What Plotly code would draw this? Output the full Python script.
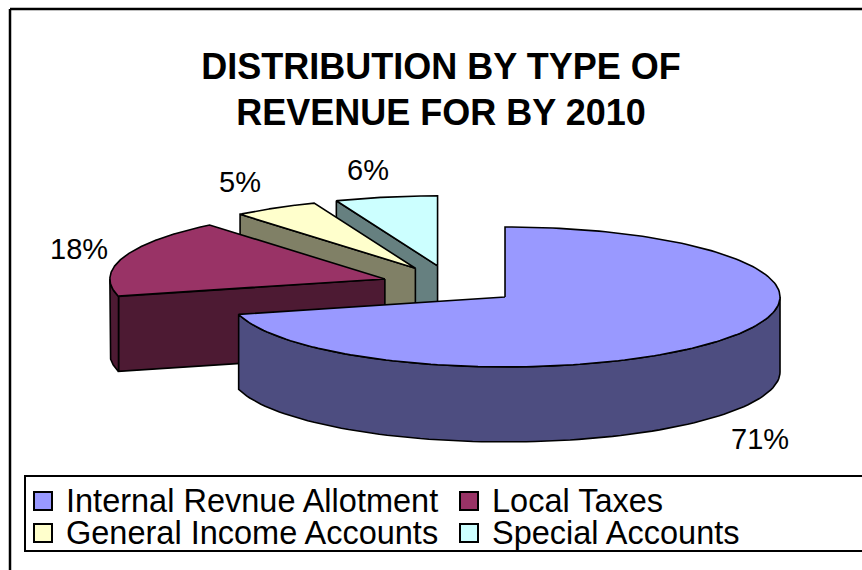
import numpy as np
import plotly.graph_objects as go

categories = ["Internal Revnue Allotment", "Local Taxes", "General Income Accounts", "Special Accounts"]
values = [71, 18, 5, 6]
top_colors = ["#9999FF", "#993366", "#FFFFCC", "#CCFFFF"]
side_colors = ["#4D4D80", "#4D1A33", "#808066", "#668080"]
title_text = "DISTRIBUTION BY TYPE OF<br>REVENUE FOR BY 2010"

FONT = "Liberation Sans, Arial, sans-serif"
CX, CY = 450.5, 285.0      # pie centre, in pixels of the 862x570 page
RX, RY = 275.0, 70.0       # ellipse radii of the tilted pie
DEPTH = 75.0               # thickness of the pie
EX, EY = 69.0, 19.5        # explosion offset
LINE = dict(color="#000000", width=1.6)


def pt(c, ang, dy=0.0):
    a = np.radians(ang)
    return c[0] + RX * np.sin(a), c[1] - RY * np.cos(a) + dy


def poly(xs, ys, fill):
    return go.Scatter(x=list(xs) + [xs[0]], y=list(ys) + [ys[0]], mode="lines", fill="toself",
                      fillcolor=fill, line=LINE, hoverinfo="skip", showlegend=False)


total = sum(values)
slices = []
start = 0.0
for v, top, side in zip(values, top_colors, side_colors):
    end = start + 360.0 * v / total
    mid = np.radians((start + end) / 2)
    c = (CX + EX * np.sin(mid), CY - EY * np.cos(mid))
    slices.append((start, end, c, top, side))
    start = end

fig = go.Figure()
# painter's order: rear slices first
for s0, s1, c, top, side in [slices[3], slices[2], slices[1], slices[0]]:
    faces = []
    if 180.0 <= s0 < 360.0:
        faces.append(s0)
    if s1 < 180.0:
        faces.append(s1)
    for ang in faces:
        ex, ey = pt(c, ang)
        fig.add_trace(poly([c[0], ex, ex, c[0]], [c[1], ey, ey + DEPTH, c[1] + DEPTH], side))
    lo, hi = max(s0, 90.0), min(s1, 270.0)
    if hi > lo:
        arc = np.linspace(lo, hi, 90)
        ax, ay = pt(c, arc)
        fig.add_trace(poly(np.r_[ax, ax[::-1]], np.r_[ay, ay[::-1] + DEPTH], side))
    arc = np.linspace(s0, s1, 180)
    ax, ay = pt(c, arc)
    fig.add_trace(poly(np.r_[c[0], ax], np.r_[c[1], ay], top))

# legend swatches and labels
legend_x = [43, 469, 43, 469]
legend_y = [501, 501, 533, 533]
fig.add_trace(go.Scatter(x=legend_x, y=legend_y, mode="markers", showlegend=False, hoverinfo="skip",
                         marker=dict(symbol="square", size=18, color=top_colors,
                                     line=dict(color="#000000", width=2))))

annotations = []
for cat, lx, ly in zip(categories, legend_x, legend_y):
    annotations.append(dict(x=lx + 21, y=ly, text=cat, xanchor="left", yanchor="middle", showarrow=False,
                            xref="x", yref="y", font=dict(family=FONT, size=32.5, color="#000000")))
label_pos = [(760, 439), (79, 249), (240, 182), (368, 170)]
for v, (lx, ly) in zip(values, label_pos):
    annotations.append(dict(x=lx, y=ly, text=f"{v}%", xanchor="center", yanchor="middle", showarrow=False,
                            xref="x", yref="y", font=dict(family=FONT, size=29, color="#000000")))

shapes = [
    dict(type="line", x0=10, x1=10, y0=9, y1=570, xref="x", yref="y", line=dict(color="#000000", width=2.5)),
    dict(type="line", x0=10, x1=862, y0=9, y1=9, xref="x", yref="y", line=dict(color="#000000", width=2.5)),
    dict(type="rect", x0=25, x1=870, y0=476, y1=551, xref="x", yref="y", line=dict(color="#000000", width=2),
         fillcolor="#FFFFFF", layer="below"),
]

fig.update_layout(
    width=862, height=570, margin=dict(l=0, r=0, t=0, b=0),
    paper_bgcolor="#FFFFFF", plot_bgcolor="#FFFFFF", showlegend=False,
    title=dict(text=f"<b>{title_text}</b>", x=441 / 862, xanchor="center", y=1 - 78.5 / 570, yanchor="top",
               font=dict(family=FONT, size=36, color="#000000")),
    xaxis=dict(range=[0, 862], visible=False, fixedrange=True),
    yaxis=dict(range=[570, 0], visible=False, fixedrange=True),
    shapes=shapes, annotations=annotations,
)
fig.write_html("out.html", config={"displayModeBar": False},
               post_script="document.body.style.margin='0';document.documentElement.style.overflow='hidden';")
